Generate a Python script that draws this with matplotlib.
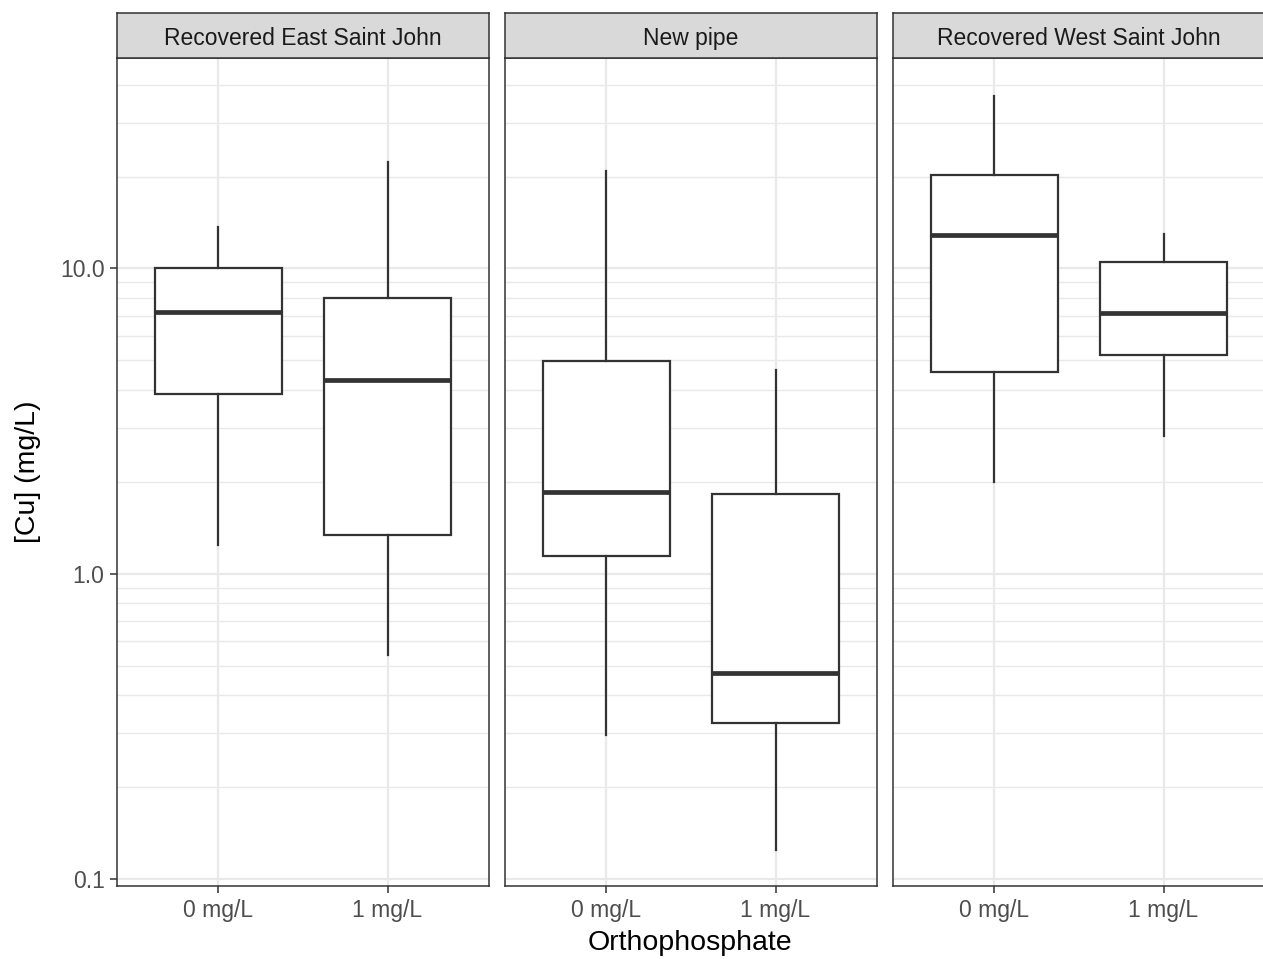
import matplotlib
matplotlib.use("Agg")
import matplotlib.pyplot as plt
import numpy as np

plt.rcParams['font.family'] = ['Liberation Sans', 'DejaVu Sans']

# data (mg/L)
panels = ['Recovered East Saint John', 'New pipe', 'Recovered West Saint John']
doses = ['0 mg/L', '1 mg/L']
whislo = [[1.24, 0.54], [0.296, 0.124], [1.99, 2.83]]
q1 = [[3.87, 1.34], [1.146, 0.324], [4.59, 5.19]]
med = [[7.2, 4.3], [1.85, 0.473], [12.9, 7.17]]
q3 = [[10.0, 7.98], [4.99, 1.82], [20.2, 10.5]]
whishi = [[13.7, 22.3], [20.8, 4.63], [36.6, 13.0]]

W, H = 1263, 959
fig = plt.figure(figsize=(W / 100, H / 100), dpi=100)

dark = '#333333'
grid = '#EBE8EA'
left, width, gap = 117, 372, 16
ybot, ytop, strip_top = 886, 58, 13

minor = [k * 10.0 ** n for n in (-1, 0, 1) for k in range(1, 10)]
for i, name in enumerate(panels):
    x0 = left + i * (width + gap)
    ax = fig.add_axes([x0 / W, 1 - ybot / H, width / W, (ybot - ytop) / H])
    ax.set_yscale('log')
    ax.set_ylim(0.0948, 48.9)
    ax.set_xlim(0.4, 2.6)

    for v in minor:
        ax.axhline(v, color=grid, lw=1.0 if v not in (0.1, 1, 10) else 1.6, zorder=0)
    for xx in (1, 2):
        ax.axvline(xx, color=grid, lw=1.6, zorder=0)

    stats = []
    for j, d in enumerate(doses):
        stats.append(dict(label=d, whislo=whislo[i][j], q1=q1[i][j], med=med[i][j],
                          q3=q3[i][j], whishi=whishi[i][j], fliers=[]))
    ax.bxp(stats, positions=[1, 2], widths=0.75, showcaps=False, patch_artist=True,
           boxprops=dict(facecolor='white', edgecolor=dark, linewidth=1.6),
           whiskerprops=dict(color=dark, linewidth=1.6),
           medianprops=dict(color=dark, linewidth=3.4, solid_capstyle='butt'),
           manage_ticks=False)

    ax.set_xticks([1, 2])
    ax.set_xticklabels(doses)
    ax.yaxis.set_minor_locator(matplotlib.ticker.NullLocator())
    ax.set_yticks([0.1, 1, 10])
    ax.set_yticklabels(['0.1', '1.0', '10.0'])
    ax.tick_params(axis='both', colors=dark, length=5, width=1.1, labelsize=16.5,
                   labelcolor='#4D4D4D', pad=4)
    if i > 0:
        ax.tick_params(axis='y', left=False, labelleft=False)
    for s in ax.spines.values():
        s.set_color(dark)
        s.set_linewidth(1.1)

    # strip on top
    sx = fig.add_axes([x0 / W, 1 - ytop / H, width / W, (ytop - strip_top) / H])
    sx.set_facecolor('#D9D9D9')
    sx.set_xticks([])
    sx.set_yticks([])
    for s in sx.spines.values():
        s.set_color(dark)
        s.set_linewidth(1.1)
    sx.text(0.5, 0.44, name, ha='center', va='center', fontsize=16.5,
            color='#1A1A1A', transform=sx.transAxes)

fig.text(28 / W, 1 - 472 / H, '[Cu] (mg/L)', rotation=90, ha='center', va='center',
         fontsize=20.5, color='black')
fig.text(690 / W, 1 - 943 / H, 'Orthophosphate', ha='center', va='center',
         fontsize=20.5, color='black')

fig.savefig('out.png', dpi=100)
